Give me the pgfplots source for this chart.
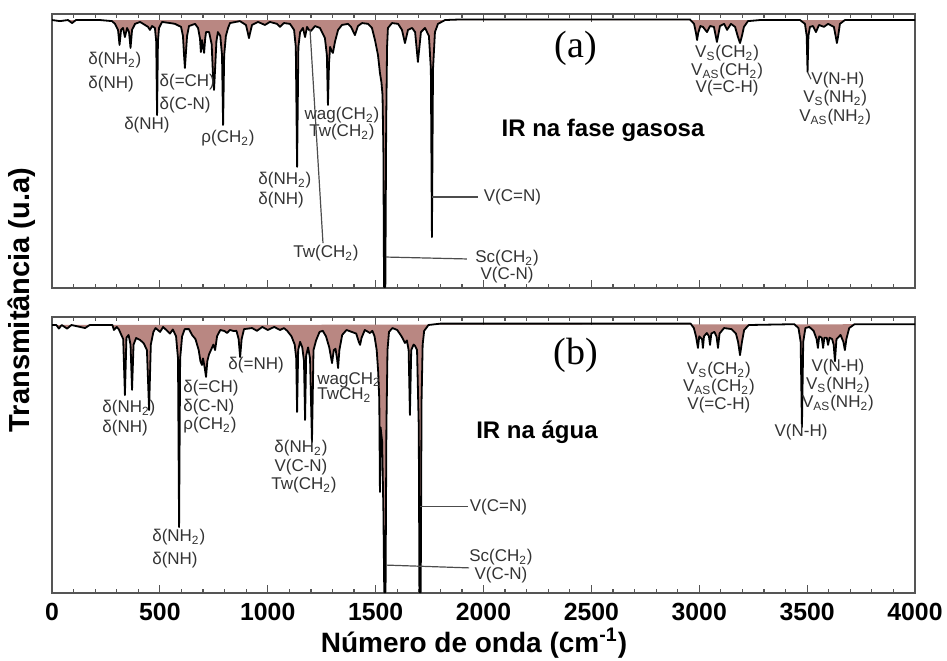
\documentclass[border=0pt]{standalone}
\usepackage{pgfplots}
\pgfplotsset{compat=1.18}
\usepackage{fontspec}
\setmainfont{Liberation Sans}
\newfontfamily\serifp{Liberation Serif}
\definecolor{bandfill}{RGB}{185,135,130}
\definecolor{framec}{RGB}{85,85,85}

\pgfplotsset{
  irpanel/.style={
    scale only axis, width=431.5pt, anchor=south west,
    xmin=0, xmax=4000, ymin=0, ymax=100,
    xtick={0,500,...,4000}, minor x tick num=4, ytick=\empty,
    tick align=inside, major tick length=4pt, minor tick length=2pt,
    axis line style={framec, line width=0.8pt},
    every tick/.style={framec, line width=0.6pt},
    clip mode=individual,
  },
  spec/.style={draw=black, line width=0.9pt, fill=bandfill, line join=round},
}
\tikzset{
  lbl/.style={font=\fontsize{8.5}{10}\selectfont, text=black!80, inner sep=0pt},
  annot/.style={draw=black!70, line width=0.6pt},
  panel/.style={font=\serifp\fontsize{19}{20}\selectfont, inner sep=0pt},
  phase/.style={font=\bfseries\fontsize{12}{14}\selectfont, inner sep=0pt},
}

\begin{document}
\begin{tikzpicture}
\useasboundingbox (0,0) rectangle (473.5pt,330pt);

% (a) gas phase
\begin{axis}[irpanel, at={(26pt,186pt)}, height=137pt, xticklabels={}]
\addplot[spec] coordinates {
(0,97.8) (37,97.4) (74,97.8) (93,96.7) (111,97.8) (222,97.8) (278,97.4) (292,96.4)
(306,94.2) (313,88.7) (320,94.2) (329,94.9) (338,91.6) (348,94.9) (357,93.4) (364,87.6)
(371,94.2) (385,96.4) (408,97.1) (431,96.0) (445,95.3) (454,94.2) (464,95.6) (477,94.9)
(483,90.0) (487,63.1) (491,90.0) (496,94.9) (510,97.1) (547,96.7) (570,96.4) (598,95.3)
(607,92.0) (612,85.0) (616,80.3) (620,85.0) (626,92.0) (635,95.6) (663,96.4) (677,94.9)
(686,91.0) (690,86.1) (695,90.5) (700,88.0) (705,85.8) (710,91.0) (714,93.4) (728,93.4)
(740,89.0) (746,78.0) (751,72.3) (756,80.0) (762,90.0) (769,93.4) (780,92.0) (788,85.0)
(793,59.5) (798,85.0) (806,92.0) (816,94.9) (825,96.7) (871,97.4) (899,96.0) (908,93.0)
(913,91.2) (918,93.0) (927,96.0) (955,97.1) (987,96.0) (1010,97.1) (1043,96.4) (1057,95.3)
(1075,96.7) (1103,96.4) (1122,94.2) (1130,88.0) (1136,44.2) (1142,88.0) (1150,93.4) (1163,94.9)
(1173,91.6) (1182,95.3) (1191,94.2) (1200,93.8) (1219,95.6) (1242,94.9) (1265,91.2) (1274,85.0)
(1279,66.8) (1284,82.0) (1289,88.0) (1296,86.5) (1302,85.8) (1312,90.0) (1326,94.2) (1344,96.0)
(1372,96.4) (1386,95.3) (1404,92.3) (1418,95.6) (1437,96.7) (1465,96.4) (1483,94.9) (1497,90.5)
(1511,85.0) (1520,78.5) (1527,75.0) (1532,70.4) (1536,50.0) (1539,0.4) (1545,0.4) (1549,60.0)
(1553,88.0) (1557,94.9) (1576,96.7) (1604,96.4) (1622,94.2) (1636,89.4) (1650,94.2) (1669,94.9)
(1683,93.4) (1696,82.5) (1710,93.4) (1729,94.9) (1747,92.0) (1756,80.0) (1761,18.6) (1766,80.0)
(1775,93.4) (1789,96.4) (1822,97.8) (1891,98.0) (2957,98.0) (2976,96.4) (2985,93.0) (2990,90.5)
(2995,93.0) (3005,95.6) (3017,95.3) (3036,93.4) (3050,95.6) (3068,95.3) (3082,89.8) (3096,95.6)
(3115,96.4) (3129,94.2) (3147,96.4) (3166,95.3) (3178,92.0) (3189,89.4) (3198,92.0) (3207,95.3)
(3226,97.4) (3282,97.8) (3467,97.8) (3490,96.4) (3498,92.0) (3502,78.8) (3506,92.0) (3513,95.3)
(3527,95.6) (3541,93.4) (3555,96.0) (3578,95.3) (3597,96.4) (3624,95.3) (3632,92.0) (3638,89.4)
(3644,92.0) (3652,96.4) (3675,97.8) (4000,97.8)
};
\node[lbl, anchor=west] at (axis cs:167,83.2) {δ(NH\textsubscript{2})};
\node[lbl, anchor=west] at (axis cs:167,74.5) {δ(NH)};
\node[lbl] at (axis cs:440,59.5) {δ(NH)};
\node[lbl, anchor=west] at (axis cs:497,75.2) {δ(=CH)};
\node[lbl, anchor=west] at (axis cs:497,66.8) {δ(C-N)};
\node[lbl] at (axis cs:816,54.7) {ρ(CH\textsubscript{2})};
\node[lbl] at (axis cs:1344,63.1) {wag(CH\textsubscript{2})};
\node[lbl] at (axis cs:1344,56.9) {Tw(CH\textsubscript{2})};
\node[lbl, anchor=west] at (axis cs:955,39.4) {δ(NH\textsubscript{2})};
\node[lbl, anchor=west] at (axis cs:955,32.1) {δ(NH)};
\draw[annot] (axis cs:1196,94.2) -- (axis cs:1256,16.4);
\node[lbl] at (axis cs:1270,12.8) {Tw(CH\textsubscript{2})};
\draw[annot] (axis cs:1761,33.2) -- (axis cs:1975,33.2);
\node[lbl, anchor=west] at (axis cs:2000,33.2) {V(C=N)};
\draw[annot] (axis cs:1548,11.3) -- (axis cs:1923,10.6);
\node[lbl] at (axis cs:2109,10.9) {Sc(CH\textsubscript{2})};
\node[lbl] at (axis cs:2109,4.7) {V(C-N)};
\node[panel] at (axis cs:2429,87.6) {(a)};
\node[phase] at (axis cs:2554,57.7) {IR na fase gasosa};
\node[lbl] at (axis cs:3129,85.8) {V\textsubscript{S}(CH\textsubscript{2})};
\node[lbl] at (axis cs:3129,79.2) {V\textsubscript{AS}(CH\textsubscript{2})};
\node[lbl] at (axis cs:3129,73.0) {V(=C-H)};
\draw[annot] (axis cs:3502,78.8) -- (axis cs:3518,76.2);
\node[lbl, anchor=west] at (axis cs:3518,75.9) {V(N-H)};
\node[lbl] at (axis cs:3630,69.3) {V\textsubscript{S}(NH\textsubscript{2})};
\node[lbl] at (axis cs:3630,62.4) {V\textsubscript{AS}(NH\textsubscript{2})};
\end{axis}

% (b) water
\begin{axis}[irpanel, at={(26pt,33.5pt)}, height=138pt,
  /pgf/number format/assume math mode=true, /pgf/number format/1000 sep={},
  xticklabel style={font=\bfseries\fontsize{12.4}{14}\selectfont, yshift=-1.5pt}]
\addplot[spec] coordinates {
(0,97.1) (20,97.1) (32,95.8) (45,97.1) (70,95.8) (90,97.1) (153,96.0) (175,97.1)
(280,97.1) (287,95.3) (300,96.4) (310,95.5) (330,92.0) (338,71.7) (345,92.5) (355,93.5)
(364,90.0) (371,73.6) (378,90.0) (390,92.4) (408,91.7) (425,90.5) (440,88.0) (450,66.3)
(458,90.0) (470,94.6) (480,96.0) (501,94.6) (515,96.4) (547,94.0) (560,95.5) (575,93.0)
(584,85.0) (589,23.9) (594,85.0) (603,93.0) (615,95.6) (635,95.6) (649,93.5) (665,92.0)
(680,88.0) (688,84.0) (695,82.6) (700,85.0) (707,82.0) (714,78.3) (720,84.0) (728,86.5)
(748,90.0) (756,88.0) (765,93.0) (780,95.3) (800,94.9) (811,94.2) (825,95.3) (843,94.9)
(855,95.0) (865,92.0) (872,85.5) (879,92.0) (890,95.6) (927,96.0) (950,95.0) (975,96.4)
(1000,95.3) (1030,96.4) (1057,95.3) (1075,96.0) (1090,95.0) (1110,93.0) (1125,90.0) (1132,85.0)
(1136,65.6) (1141,88.0) (1150,91.0) (1160,89.0) (1168,84.0) (1173,62.7) (1178,86.0) (1187,89.0)
(1196,85.0) (1205,54.7) (1212,88.0) (1224,91.5) (1240,94.6) (1255,95.0) (1270,93.0) (1285,89.0)
(1298,83.3) (1306,88.0) (1314,88.5) (1321,85.0) (1326,81.5) (1332,88.0) (1345,93.5) (1365,95.3)
(1410,94.0) (1422,91.0) (1428,89.9) (1435,92.5) (1450,95.3) (1474,94.2) (1485,95.0) (1495,93.0)
(1505,88.0) (1512,80.0) (1517,70.0) (1520,36.6) (1523,60.0) (1530,55.0) (1536,30.0) (1540,0.3)
(1546,0.3) (1550,60.0) (1555,88.0) (1562,94.6) (1578,96.0) (1600,95.3) (1620,93.0) (1636,90.6)
(1645,91.5) (1653,88.0) (1659,64.5) (1665,88.0) (1676,90.0) (1683,89.5) (1692,88.0) (1700,60.0)
(1703,0.3) (1709,0.3) (1713,70.0) (1718,90.0) (1725,95.0) (1745,97.1) (1800,97.6) (2960,97.6)
(2975,96.0) (2985,93.0) (2994,88.8) (3000,93.0) (3006,92.5) (3013,92.0) (3017,88.8) (3022,93.0)
(3035,94.2) (3045,93.0) (3050,89.9) (3056,94.0) (3070,94.6) (3080,93.0) (3087,88.8) (3094,94.0)
(3115,96.0) (3150,95.6) (3170,94.0) (3180,91.0) (3189,86.2) (3198,91.0) (3208,95.3) (3230,97.1)
(3440,97.4) (3460,96.0) (3470,91.0) (3476,60.1) (3482,91.0) (3492,96.0) (3510,96.4) (3530,95.0)
(3544,92.0) (3550,88.8) (3556,93.0) (3568,92.5) (3574,88.8) (3580,92.5) (3591,92.5) (3597,89.9)
(3604,92.5) (3616,92.0) (3623,90.0) (3629,84.0) (3636,92.0) (3655,93.5) (3668,91.0) (3675,88.0)
(3682,92.0) (3695,96.0) (3720,97.4) (4000,97.4)
};
\node[lbl, anchor=west] at (axis cs:232,67.0) {δ(NH\textsubscript{2})};
\node[lbl, anchor=west] at (axis cs:232,59.8) {δ(NH)};
\node[lbl, anchor=west] at (axis cs:607,74.3) {δ(=CH)};
\node[lbl, anchor=west] at (axis cs:607,67.4) {δ(C-N)};
\node[lbl, anchor=west] at (axis cs:607,60.9) {ρ(CH\textsubscript{2})};
\node[lbl] at (axis cs:946,82.6) {δ(=NH)};
\node[lbl, anchor=west] at (axis cs:1228,77.2) {wagCH\textsubscript{2}};
\node[lbl, anchor=west] at (axis cs:1228,71.7) {TwCH\textsubscript{2}};
\node[lbl] at (axis cs:1154,52.5) {δ(NH\textsubscript{2})};
\node[lbl] at (axis cs:1154,45.7) {V(C-N)};
\node[lbl] at (axis cs:1168,39.1) {Tw(CH\textsubscript{2})};
\node[lbl, anchor=west] at (axis cs:463,20.3) {δ(NH\textsubscript{2})};
\node[lbl, anchor=west] at (axis cs:463,12.0) {δ(NH)};
\draw[annot] (axis cs:1706,31.2) -- (axis cs:1928,31.2);
\node[lbl, anchor=west] at (axis cs:1935,31.2) {V(C=N)};
\draw[annot] (axis cs:1553,10.1) -- (axis cs:1933,9.1);
\node[lbl] at (axis cs:2081,13.0) {Sc(CH\textsubscript{2})};
\node[lbl] at (axis cs:2081,6.5) {V(C-N)};
\node[panel] at (axis cs:2429,86.2) {(b)};
\node[phase] at (axis cs:2248,58.3) {IR na água};
\node[lbl] at (axis cs:3091,80.8) {V\textsubscript{S}(CH\textsubscript{2})};
\node[lbl] at (axis cs:3091,74.6) {V\textsubscript{AS}(CH\textsubscript{2})};
\node[lbl] at (axis cs:3091,68.1) {V(=C-H)};
\node[lbl] at (axis cs:3643,81.9) {V(N-H)};
\node[lbl] at (axis cs:3643,75.4) {V\textsubscript{S}(NH\textsubscript{2})};
\node[lbl] at (axis cs:3643,68.8) {V\textsubscript{AS}(NH\textsubscript{2})};
\node[lbl] at (axis cs:3472,58.3) {V(N-H)};
\end{axis}

\node[font=\bfseries\fontsize{14}{16}\selectfont] at (237pt,8.5pt) {Número de onda (cm\textsuperscript{-1})};
\node[rotate=90, font=\bfseries\fontsize{14.5}{16}\selectfont] at (11pt,180pt) {Transmitância (u.a)};
\end{tikzpicture}
\end{document}
